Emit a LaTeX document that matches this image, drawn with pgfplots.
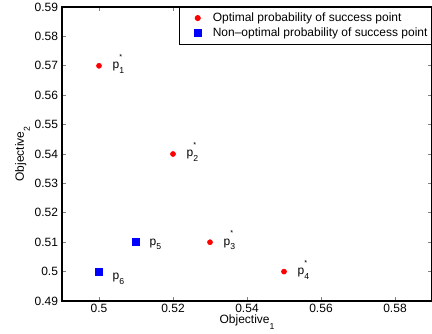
\documentclass[border=0pt]{standalone}
\usepackage{fontspec}
\setmainfont{Liberation Sans}
\usepackage{pgfplots}
\pgfplotsset{compat=1.18}
\newcommand{\plab}[2]{p\makebox[0pt][l]{\raisebox{7pt}{\fontsize{5.5}{6}\selectfont #2}}\raisebox{-3.5pt}{\fontsize{6.5}{7}\selectfont #1}}
\begin{document}
\begin{tikzpicture}
\path[use as bounding box] (-46.5pt,-24pt) rectangle (277.5pt,225.75pt);
\begin{axis}[
  at={(0,0)}, anchor=south west,
  scale only axis,
  width=277.5pt, height=220.5pt,
  xmin=0.49, xmax=0.59, ymin=0.49, ymax=0.59,
  xtick={0.5,0.52,0.54,0.56,0.58},
  ytick={0.49,0.5,0.51,0.52,0.53,0.54,0.55,0.56,0.57,0.58,0.59},
  tick align=inside, tick pos=both,
  major tick length=3pt,
  tick style={line width=0.5pt},
  /pgf/number format/assume math mode=true,
  /pgf/number format/fixed,
  /pgf/number format/precision=2,
  tick label style={font=\fontsize{9}{10}\selectfont},
  yticklabel style={xshift=0.5pt},
  xticklabel style={yshift=1.5pt},
  xlabel={Objective\raisebox{-4pt}{\fontsize{6.5}{7}\selectfont 1}},
  ylabel={Objective\raisebox{-4.5pt}{\fontsize{6.5}{7}\selectfont 2}},
  xlabel style={at={(axis description cs:0.5,-0.0771)}, anchor=base, inner sep=0pt, font=\fontsize{9}{10}\selectfont},
  ylabel style={at={(axis description cs:-0.1027,0.5)}, anchor=base, font=\fontsize{9}{10}\selectfont},
  axis line style={line width=0.8pt},
  legend style={at={(1,1)}, anchor=north east, draw=black, line width=0.7pt,
    font=\fontsize{9}{10}\selectfont, inner xsep=1.5pt, inner ysep=2.2pt,
    column sep=0pt, row sep=0pt,
    nodes={inner sep=1.5pt, text height=6.5pt, text depth=2pt},
    cells={anchor=west}},
  legend image code/.code={\path[draw=none,fill=none] (0pt,0pt) rectangle (21.75pt,0pt); \draw[#1,only marks] plot coordinates {(12pt,0pt)};},
  legend cell align=left,
]
\addplot[only marks, mark=*, mark size=1.9pt, color=red, mark options={fill=red, draw=red}]
  coordinates {(0.50,0.57) (0.52,0.54) (0.53,0.51) (0.55,0.50)};
\addlegendentry{Optimal probability of success point}
\addplot[only marks, mark=square*, mark size=2.6pt, color=blue, mark options={fill=blue, draw=blue}]
  coordinates {(0.51,0.51) (0.50,0.50)};
\addlegendentry{Non–optimal probability of success point}
\node[anchor=base west, inner sep=0pt, font=\fontsize{9}{10}\selectfont] at (axis cs:0.5036,0.5690) {\plab{1}{*}};
\node[anchor=base west, inner sep=0pt, font=\fontsize{9}{10}\selectfont] at (axis cs:0.5236,0.5390) {\plab{2}{*}};
\node[anchor=base west, inner sep=0pt, font=\fontsize{9}{10}\selectfont] at (axis cs:0.5336,0.5090) {\plab{3}{*}};
\node[anchor=base west, inner sep=0pt, font=\fontsize{9}{10}\selectfont] at (axis cs:0.5536,0.4990) {\plab{4}{*}};
\node[anchor=base west, inner sep=0pt, font=\fontsize{9}{10}\selectfont] at (axis cs:0.5136,0.5090) {\plab{5}{}};
\node[anchor=base west, inner sep=0pt, font=\fontsize{9}{10}\selectfont] at (axis cs:0.5036,0.4973) {\plab{6}{}};
\end{axis}
\end{tikzpicture}
\end{document}
